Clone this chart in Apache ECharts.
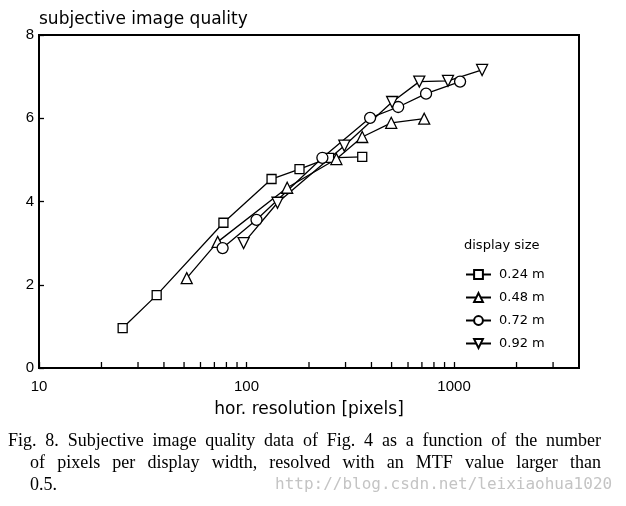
<!DOCTYPE html>
<html><head><meta charset="utf-8">
<script src="https://cdn.jsdelivr.net/npm/echarts@6/dist/echarts.min.js"></script>
<style>html,body{margin:0;padding:0;background:#fff}#c{width:626px;height:506px}</style>
</head><body><div id="c"></div>
<script>
const seriesNames = ['0.24 m', '0.48 m', '0.72 m', '0.92 m'];
const res024 = [25.3, 36.9, 77.4, 132, 180, 250, 361];
const q024   = [0.96, 1.75, 3.49, 4.54, 4.78, 5.05, 5.07];
const res048 = [51.5, 72.6, 157, 271, 361, 498, 718];
const q048   = [2.16, 3.03, 4.33, 5.02, 5.55, 5.89, 5.99];
const res072 = [76.7, 111.7, 232, 394, 538, 733, 1069];
const q072   = [2.88, 3.56, 5.05, 6.01, 6.27, 6.59, 6.88];
const res092 = [96.8, 141, 296, 503, 680, 935, 1365];
const q092   = [3.0, 3.97, 5.34, 6.39, 6.88, 6.9, 7.16];
const xMinorTicks = [20, 30, 40, 50, 60, 70, 80, 90, 200, 300, 400, 500, 600, 700, 800, 900, 2000, 3000];
const yTitle = 'subjective image quality';
const xTitle = 'hor. resolution [pixels]';
const legendTitle = 'display size';
const captionLines = [
  'Fig. 8.  Subjective image quality data of Fig. 4 as a function of the number',
  'of pixels per display width, resolved with an MTF value larger than',
  '0.5.'
];
const watermark = 'http://blog.csdn.net/leixiaohua1020';

const zip = (xs, ys) => xs.map((x, i) => [x, ys[i]]);
const symbols = ['rect', 'triangle', 'circle', 'path://M0,0L10,0L5,8.66Z'];
const sizes = [9, 11, 11, 11];
const dataSets = [zip(res024, q024), zip(res048, q048), zip(res072, q072), zip(res092, q092)];

const capFont = '18px "Liberation Serif"';
const cnv = document.createElement('canvas').getContext('2d');
function justify(line, x0, x1, y, font, doJustify) {
  cnv.font = font;
  const words = line.split(/\s+/);
  const widths = words.map(w => cnv.measureText(w).width);
  const total = widths.reduce((a, b) => a + b, 0);
  const gap = doJustify && words.length > 1 ? (x1 - x0 - total) / (words.length - 1) : cnv.measureText(' ').width;
  let x = x0;
  return words.map((w, i) => {
    const el = { type: 'text', x: x, y: y, style: { text: w, font: font, fill: '#000', verticalAlign: 'middle' } };
    x += widths[i] + gap;
    return el;
  });
}

const graphics = [].concat(
  justify(captionLines[0], 8, 601, 441, capFont, true),
  justify(captionLines[1], 30, 601, 463, capFont, true),
  justify(captionLines[2], 30, 601, 485, capFont, false),
  [
    { type: 'text', x: 275, y: 485, style: { text: watermark, font: '16px "DejaVu Sans Mono"', fill: '#c4c4c4', verticalAlign: 'middle' } },
    { type: 'text', x: 464, y: 246, style: { text: legendTitle, font: '13px "DejaVu Sans"', fill: '#000', verticalAlign: 'middle' } }
  ]
);

const chart = echarts.init(document.getElementById('c'), null, { renderer: 'canvas' });
const lineSeries = seriesNames.map((name, i) => ({
  name: name,
  type: 'line',
  data: dataSets[i],
  symbol: symbols[i],
  symbolSize: sizes[i],
  showAllSymbol: true,
  lineStyle: { color: '#000', width: 1.3 },
  itemStyle: { color: '#fff', borderColor: '#000', borderWidth: 1.3 },
  emphasis: { disabled: true },
  animation: false
}));
lineSeries.push({
  type: 'custom',
  silent: true,
  animation: false,
  clip: false,
  z: 5,
  data: xMinorTicks.map(v => [v, 0]),
  encode: { x: 0, y: 1 },
  renderItem: function (params, api) {
    const p = api.coord([api.value(0), api.value(1)]);
    return { type: 'line', shape: { x1: p[0], y1: p[1], x2: p[0], y2: p[1] - 6 }, style: { stroke: '#000', lineWidth: 1.3 } };
  }
});

chart.setOption({
  backgroundColor: '#fff',
  animation: false,
  textStyle: { fontFamily: 'DejaVu Sans' },
  grid: { left: 39, right: 47, top: 35, bottom: 138, show: true, borderColor: '#000', borderWidth: 2, containLabel: false },
  legend: {
    data: seriesNames,
    orient: 'vertical',
    left: 460,
    top: 263,
    itemWidth: 25,
    itemHeight: 11,
    itemGap: 10,
    textStyle: { fontSize: 13, fontFamily: 'DejaVu Sans', color: '#000', padding: [0, 0, 0, 3] },
    selectedMode: false
  },
  xAxis: {
    type: 'log',
    logBase: 10,
    min: 10,
    max: 4000,
    name: xTitle,
    nameLocation: 'middle',
    nameGap: 33,
    nameTextStyle: { fontSize: 17, fontFamily: 'DejaVu Sans', color: '#000' },
    axisLine: { lineStyle: { color: '#000', width: 2 } },
    axisTick: { inside: true, length: 6, lineStyle: { color: '#000', width: 1.3 } },
    axisLabel: { margin: 11, fontSize: 15, fontFamily: 'Liberation Sans', color: '#000', showMaxLabel: false, formatter: v => String(v) },
    splitLine: { show: false },
    minorTick: { show: false }
  },
  yAxis: {
    type: 'value',
    min: 0,
    max: 8,
    interval: 2,
    name: yTitle,
    nameLocation: 'end',
    nameGap: 12,
    nameTextStyle: { fontSize: 17, fontFamily: 'DejaVu Sans', color: '#000', align: 'left', verticalAlign: 'middle' },
    axisLine: { lineStyle: { color: '#000', width: 2 } },
    axisTick: { inside: true, length: 5, lineStyle: { color: '#000', width: 1.3 } },
    axisLabel: { margin: 5, fontSize: 15, fontFamily: 'Liberation Sans', color: '#000' },
    splitLine: { show: false }
  },
  graphic: graphics,
  series: lineSeries
});
</script></body></html>
